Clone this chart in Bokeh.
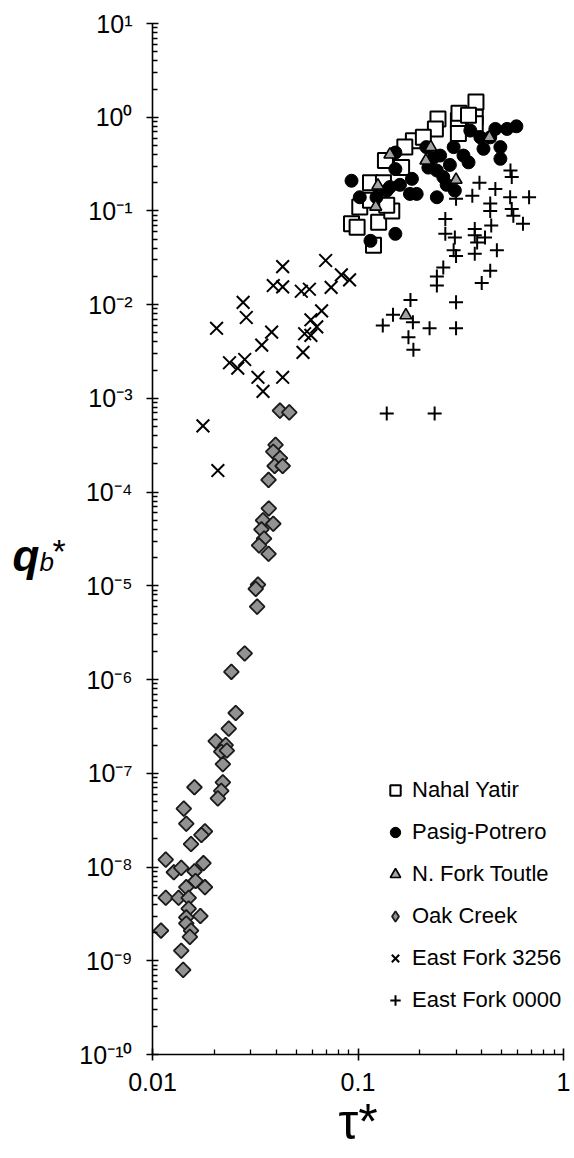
import math
from bokeh.plotting import figure
from bokeh.layouts import row
from bokeh.models import (Range1d, FixedTicker, CustomJSTickFormatter, Legend,
                          LegendItem)
from bokeh.core.properties import value
from bokeh.embed import file_html
from bokeh.resources import INLINE

FONT = "Liberation Sans"

# ---------------- data ----------------
nahal_x = [0.375, 0.245, 0.308, 0.372, 0.372, 0.308, 0.238, 0.186, 0.208, 0.169,
           0.136, 0.163, 0.115, 0.133, 0.102, 0.093, 0.099, 0.126, 0.146, 0.119,
           0.115, 0.138, 0.31, 0.345]
nahal_y = [1.45, 0.96, 0.92, 1.0, 0.85, 0.67, 0.75, 0.56, 0.61, 0.48,
           0.345, 0.29, 0.20, 0.20, 0.11, 0.073, 0.067, 0.076, 0.10, 0.043,
           0.13, 0.115, 1.1, 1.05]

pasig_x = [0.59, 0.531, 0.466, 0.352, 0.394, 0.408, 0.493, 0.493, 0.326, 0.345,
           0.292, 0.28, 0.251, 0.233, 0.22, 0.242, 0.26, 0.27, 0.296, 0.242,
           0.193, 0.179, 0.183, 0.16, 0.143, 0.152, 0.152, 0.093, 0.102, 0.123,
           0.115, 0.152, 0.138, 0.215, 0.44]
pasig_y = [0.80, 0.75, 0.75, 0.72, 0.61, 0.46, 0.48, 0.36, 0.39, 0.33,
           0.48, 0.31, 0.39, 0.37, 0.29, 0.27, 0.23, 0.19, 0.165, 0.14,
           0.152, 0.152, 0.22, 0.19, 0.18, 0.28, 0.42, 0.21, 0.14, 0.14,
           0.048, 0.057, 0.165, 0.48, 0.61]

toutle_x = [0.436, 0.143, 0.226, 0.214, 0.30, 0.125, 0.122, 0.171]
toutle_y = [0.61, 0.40, 0.48, 0.345, 0.215, 0.187, 0.111, 0.0077]

oak_x = [0.0417, 0.0463, 0.0397, 0.0387, 0.0417, 0.0393, 0.043, 0.0367,
         0.0368, 0.0345, 0.0387, 0.0339, 0.0349, 0.033, 0.0367, 0.0326, 0.0318,
         0.0323, 0.0281, 0.0242, 0.0254, 0.0235, 0.0203, 0.0227, 0.0216, 0.023,
         0.022, 0.022, 0.0216, 0.0208, 0.016, 0.0142, 0.0146, 0.0154, 0.018,
         0.0173, 0.0116, 0.0127, 0.0138, 0.016, 0.0177, 0.0162, 0.0146, 0.018,
         0.0116, 0.0134, 0.015, 0.015, 0.0146, 0.0171, 0.0146, 0.0154, 0.011,
         0.0152, 0.0138, 0.0141]
oak_y = [7.4e-4, 7.1e-4, 3.2e-4, 2.7e-4, 2.3e-4, 1.9e-4, 1.9e-4, 1.35e-4,
         6.7e-5, 5.0e-5, 4.6e-5, 4.0e-5, 3.2e-5, 2.7e-5, 2.2e-5, 1.03e-5, 9.3e-6,
         6.0e-6, 1.9e-6, 1.21e-6, 4.4e-7, 3.0e-7, 2.2e-7, 2.0e-7, 1.7e-7, 1.75e-7,
         1.25e-7, 8.0e-8, 6.5e-8, 5.4e-8, 7.1e-8, 4.2e-8, 2.9e-8, 1.76e-8, 2.4e-8,
         2.2e-8, 1.2e-8, 8.8e-9, 9.8e-9, 9.0e-9, 1.1e-8, 7.1e-9, 6.1e-9, 6.1e-9,
         4.7e-9, 4.7e-9, 4.7e-9, 3.6e-9, 2.9e-9, 3.0e-9, 2.5e-9, 2.1e-9, 2.1e-9,
         1.8e-9, 1.28e-9, 8.0e-10]

ef3256_x = [0.043, 0.0696, 0.083, 0.091, 0.074, 0.0387, 0.043, 0.053, 0.058,
            0.0276, 0.0286, 0.0205, 0.0665, 0.059, 0.063, 0.055, 0.059, 0.054,
            0.038, 0.034, 0.0281, 0.0237, 0.026, 0.0326, 0.043, 0.0345, 0.0176,
            0.0208]
ef3256_y = [0.0255, 0.0296, 0.0208, 0.0184, 0.0153, 0.016, 0.0155, 0.0139, 0.0146,
            0.0106, 0.0073, 0.0056, 0.0086, 0.0069, 0.0058, 0.0049, 0.0047, 0.0031,
            0.0051, 0.0037, 0.0026, 0.0024, 0.0021, 0.00168, 0.00168, 0.00119,
            0.00051, 0.00017]

ef0000_x = [0.552, 0.56, 0.39, 0.466, 0.36, 0.30, 0.44, 0.44, 0.55, 0.68,
            0.56, 0.57, 0.445, 0.635, 0.266, 0.266, 0.296, 0.37, 0.37, 0.38,
            0.415, 0.474, 0.292, 0.30, 0.37, 0.26, 0.242, 0.44, 0.40, 0.242,
            0.18, 0.30, 0.148, 0.132, 0.185, 0.223, 0.30, 0.176, 0.186, 0.138,
            0.236]
ef0000_y = [0.27, 0.23, 0.20, 0.172, 0.145, 0.135, 0.12, 0.10, 0.14, 0.14,
            0.105, 0.089, 0.070, 0.073, 0.082, 0.057, 0.052, 0.064, 0.055, 0.046,
            0.052, 0.038, 0.038, 0.033, 0.035, 0.025, 0.020, 0.023, 0.017, 0.016,
            0.0112, 0.0106, 0.0078, 0.0060, 0.0065, 0.0056, 0.0056, 0.0045, 0.0033,
            0.00069, 0.00069]

series_names = ["Nahal Yatir", "Pasig-Potrero", "N. Fork Toutle", "Oak Creek",
                "East Fork 3256", "East Fork 0000"]

x_ticks = [0.01, 0.1, 1.0]
x_tick_labels = ["0.01", "0.1", "1"]
y_ticks = [1e-10, 1e-9, 1e-8, 1e-7, 1e-6, 1e-5, 1e-4, 1e-3, 1e-2, 1e-1, 1e0, 1e1]
y_tick_labels = ["10\u207b\u00b9\u2070", "10\u207b\u2079", "10\u207b\u2078",
                 "10\u207b\u2077", "10\u207b\u2076", "10\u207b\u2075",
                 "10\u207b\u2074", "10\u207b\u00b3", "10\u207b\u00b2",
                 "10\u207b\u00b9", "10\u2070", "10\u00b9"]

x_minor = [m * d for d in (0.01, 0.1) for m in range(2, 10)]
y_minor = [m * t for t in y_ticks[:-1] for m in range(2, 10)]

# ---------------- main figure ----------------
p = figure(frame_width=411, frame_height=1031, x_axis_type="log", y_axis_type="log",
           x_range=Range1d(0.01, 1.0), y_range=Range1d(1e-10, 10.0),
           output_backend="svg", toolbar_location=None,
           min_border_left=77, min_border_right=11,
           min_border_top=23, min_border_bottom=104)
p.outline_line_color = None
p.xgrid.visible = False
p.ygrid.visible = False
p.background_fill_color = "white"
p.border_fill_color = "white"

fmt_code = """
for (let i = 0; i < vals.length; i++) {
  if (Math.abs(Math.log10(tick) - Math.log10(vals[i])) < 1e-6) return labs[i];
}
return "";
"""
p.xaxis.ticker = FixedTicker(ticks=x_ticks, minor_ticks=x_minor)
p.xaxis.formatter = CustomJSTickFormatter(args=dict(vals=x_ticks, labs=x_tick_labels), code=fmt_code)
p.yaxis.ticker = FixedTicker(ticks=y_ticks, minor_ticks=y_minor)
p.yaxis.formatter = CustomJSTickFormatter(args=dict(vals=y_ticks, labs=y_tick_labels), code=fmt_code)

for ax in (p.xaxis[0], p.yaxis[0]):
    ax.axis_line_width = 1.6
    ax.axis_line_color = "black"
    ax.major_tick_line_width = 1.6
    ax.minor_tick_line_width = 1.3
    ax.major_tick_line_color = "black"
    ax.minor_tick_line_color = "black"
    ax.major_tick_in = 6
    ax.major_tick_out = 6
    ax.minor_tick_in = 5
    ax.minor_tick_out = 0
    ax.major_label_text_font = FONT
    ax.major_label_text_font_size = "25px"
    ax.major_label_text_color = "black"

p.yaxis.major_label_standoff = 14
p.xaxis.major_label_standoff = 12

p.xaxis.axis_label = "\u03c4*"
p.xaxis.axis_label_text_font = FONT
p.xaxis.axis_label_text_font_size = "50px"
p.xaxis.axis_label_text_font_style = "normal"
p.xaxis.axis_label_text_color = "black"
p.xaxis.axis_label_standoff = 0

# ---------------- glyphs ----------------
r_sq = p.scatter(nahal_x, nahal_y, marker="square", size=15, fill_color="white",
                 line_color="black", line_width=2)
r_ci = p.scatter(pasig_x, pasig_y, marker="circle", size=13, fill_color="black",
                 line_color="black", line_width=1)
r_tr = p.scatter(toutle_x, toutle_y, marker="triangle", size=12, fill_color="#a3a3a3",
                 line_color="black", line_width=1.6)
# diamond symbol used by the legend (hidden underneath the drawn diamonds)
r_di_leg = p.scatter(oak_x, oak_y, marker="diamond", size=14, fill_color="#929292",
                     line_color="#1a1a1a", line_width=1.8)
r_di = p.scatter(oak_x, oak_y, marker="square", angle=math.pi / 4, size=10.5,
                 fill_color="#929292", line_color="#1a1a1a", line_width=1.8)
r_x = p.scatter(ef3256_x, ef3256_y, marker="x", size=18, line_color="black",
                line_width=2)
r_pl = p.scatter(ef0000_x, ef0000_y, marker="cross", size=14, line_color="black",
                 line_width=2)

legend = Legend(items=[LegendItem(label=n, renderers=[r]) for n, r in
                       zip(series_names, [r_sq, r_ci, r_tr, r_di_leg, r_x, r_pl])],
                location=(230, 41), orientation="vertical",
                glyph_width=26, glyph_height=26, label_height=26, label_standoff=4,
                spacing=16, padding=0, margin=0, border_line_color=None,
                background_fill_alpha=0,
                label_text_font=FONT, label_text_font_size="22px",
                label_text_color="black")
p.add_layout(legend)

# ---------------- y-axis title panel (q_b*) ----------------
t = figure(width=75, height=1158, x_range=Range1d(0, 75), y_range=Range1d(1158, 0),
           output_backend="svg", toolbar_location=None,
           x_axis_location=None, y_axis_location=None,
           min_border_left=0, min_border_right=0, min_border_top=0, min_border_bottom=0)
t.outline_line_color = None
t.xgrid.visible = False
t.ygrid.visible = False
t.text(x=[12], y=[598], text=["q"], text_font=value(FONT), text_font_size="44px",
       text_font_style="bold italic", text_baseline="alphabetic", text_color="black")
t.text(x=[39], y=[605], text=["b"], text_font=value(FONT), text_font_size="26px",
       text_font_style="italic", text_baseline="alphabetic", text_color="black")
t.text(x=[52], y=[593], text=["*"], text_font=value(FONT), text_font_size="34px",
       text_baseline="alphabetic", text_color="black")

layout = row(t, p, spacing=0)
open("out.html", "w").write(file_html(layout, INLINE))
